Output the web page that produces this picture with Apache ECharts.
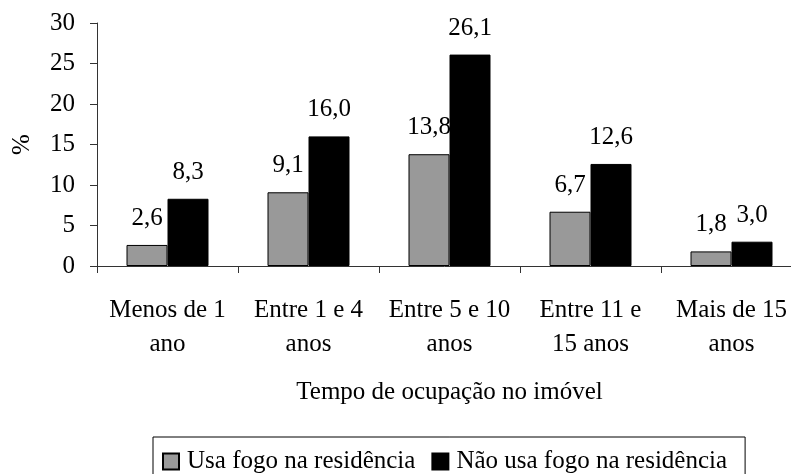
<!DOCTYPE html>
<html>
<head>
<meta charset="utf-8">
<script src="https://cdn.jsdelivr.net/npm/echarts@6/dist/echarts.min.js"></script>
<style>
  html, body { margin: 0; padding: 0; background: #fff; }
  #chart { width: 791px; height: 474px; }
</style>
</head>
<body>
<div id="chart"></div>
<script>
  // categorias e valores (%)
  var categorias = ['Menos de 1\nano', 'Entre 1 e 4\nanos', 'Entre 5 e 10\nanos', 'Entre 11 e\n15 anos', 'Mais de 15\nanos'];
  var usaFogo = [2.6, 9.1, 13.8, 6.7, 1.8];
  var naoUsaFogo = [8.3, 16.0, 26.1, 12.6, 3.0];
  var yTicks = [0, 5, 10, 15, 20, 25, 30];

  var fonte = 'Liberation Serif';
  var chart = echarts.init(document.getElementById('chart'));

  function rotulo(p) {
    return p.value.toFixed(1).replace('.', ',');
  }

  chart.setOption({
    animation: false,
    textStyle: { fontFamily: fonte, color: '#000' },
    // a área do gráfico passa um pouco da borda direita, como no original
    grid: { left: 97, width: 705, top: 23, bottom: 208, outerBoundsMode: 'none', containLabel: false },
    legend: {
      left: 153,
      top: 437,
      icon: 'rect',
      itemWidth: 16,
      itemHeight: 16,
      itemGap: 16,
      padding: [12, 18, 12, 9],
      borderColor: '#000',
      borderWidth: 1,
      textStyle: { fontFamily: fonte, fontSize: 25, color: '#000', padding: [0, 0, 0, 3] },
      data: ['Usa fogo na residência', 'Não usa fogo na residência']
    },
    xAxis: {
      type: 'category',
      data: categorias,
      name: 'Tempo de ocupação no imóvel',
      nameLocation: 'middle',
      nameGap: 114,
      nameTextStyle: { fontFamily: fonte, fontSize: 25, color: '#000' },
      axisLine: { lineStyle: { color: '#333', width: 1 } },
      axisTick: { show: true, length: 7, lineStyle: { color: '#333' } },
      axisLabel: { fontFamily: fonte, fontSize: 25, color: '#000', lineHeight: 34, margin: 27, interval: 0 }
    },
    yAxis: {
      type: 'value',
      min: yTicks[0],
      max: yTicks[yTicks.length - 1],
      interval: 5,
      name: '%',
      nameLocation: 'middle',
      nameRotate: 90,
      nameGap: 62,
      nameTextStyle: { fontFamily: fonte, fontSize: 25, color: '#000' },
      splitLine: { show: false },
      axisLine: { show: true, lineStyle: { color: '#333', width: 1 } },
      axisTick: { show: true, length: 7, lineStyle: { color: '#333' } },
      axisLabel: { fontFamily: fonte, fontSize: 25, color: '#000', margin: 22 }
    },
    series: [
      {
        name: 'Usa fogo na residência',
        type: 'bar',
        data: usaFogo,
        barWidth: 41,
        barGap: '0%',
        itemStyle: { color: '#999999', borderColor: '#000', borderWidth: 1 },
        label: { show: true, position: 'top', distance: 14, formatter: rotulo, fontFamily: fonte, fontSize: 25, color: '#000' }
      },
      {
        name: 'Não usa fogo na residência',
        type: 'bar',
        data: naoUsaFogo,
        barWidth: 41,
        barGap: '0%',
        itemStyle: { color: '#000000', borderColor: '#000', borderWidth: 1 },
        label: { show: true, position: 'top', distance: 14, formatter: rotulo, fontFamily: fonte, fontSize: 25, color: '#000' }
      }
    ]
  });
</script>
</body>
</html>
